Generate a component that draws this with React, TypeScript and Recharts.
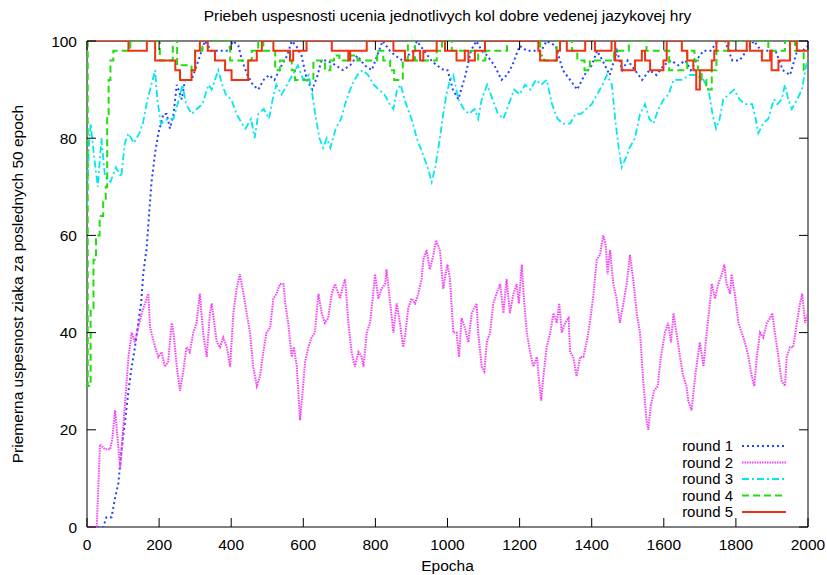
import React from "react";
import { LineChart, Line, XAxis, YAxis, ReferenceArea, Legend } from "recharts";

const FONT = "'Liberation Sans', Arial, Helvetica, sans-serif";
const FS = 15.5;
const PLOT_W = 721;
const PLOT_H = 486;
const TICK = 9;

const xTicks = [0, 200, 400, 600, 800, 1000, 1200, 1400, 1600, 1800, 2000];
const yTicks = [0, 20, 40, 60, 80, 100];

// round 1 (blue, dotted)
const r1Epochs = [0, 45, 54, 68, 78, 87, 96, 106, 115, 124, 133, 142, 150, 156, 161, 165, 170, 179, 189, 198, 212, 221, 230, 240, 249, 263, 272, 290, 300, 309, 318, 327, 345, 369, 392, 405, 420, 430, 445, 460, 475, 490, 505, 520, 540, 555, 568, 580, 595, 610, 625, 640, 650, 665, 690, 710, 730, 750, 770, 790, 805, 820, 840, 855, 875, 890, 905, 915, 935, 955, 970, 990, 1000, 1015, 1030, 1050, 1065, 1080, 1095, 1110, 1130, 1150, 1165, 1180, 1200, 1220, 1240, 1260, 1275, 1300, 1320, 1340, 1360, 1380, 1400, 1415, 1430, 1450, 1470, 1485, 1500, 1520, 1540, 1560, 1580, 1600, 1620, 1640, 1660, 1675, 1690, 1710, 1730, 1750, 1770, 1790, 1810, 1830, 1850, 1870, 1890, 1910, 1930, 1950, 1970, 1985, 2000];
const r1Values = [0, 0, 2, 2, 6, 9, 16, 22, 28, 33, 37, 42, 46, 52, 55, 57, 62, 71, 77, 81, 85, 85, 82, 85, 91, 88, 92, 92, 94, 96, 98, 100, 98, 98, 98, 100, 99, 96, 93, 91, 90, 92, 93, 92, 95, 97, 100, 99, 97, 92, 90, 93, 96, 96, 95, 94, 95, 97, 95, 94, 97, 100, 98, 97, 96, 97, 98, 100, 98, 96, 95, 94, 94, 90, 88, 93, 98, 100, 98, 97, 95, 92, 93, 95, 99, 98, 98, 98, 100, 99, 94, 92, 90, 93, 95, 98, 96, 93, 98, 94, 96, 94, 92, 94, 93, 95, 96, 95, 96, 94, 96, 98, 98, 100, 100, 96, 96, 98, 100, 98, 98, 98, 94, 93, 98, 98, 99];

// round 2 (magenta, fine dots)
const r2Epochs = [0, 27, 36, 50, 64, 70, 78, 85, 92, 101, 110, 115, 124, 133, 142, 152, 161, 170, 175, 189, 198, 207, 216, 225, 235, 240, 249, 258, 267, 276, 285, 295, 304, 313, 322, 332, 341, 346, 360, 369, 378, 388, 397, 406, 415, 424, 434, 443, 452, 461, 471, 480, 489, 498, 508, 517, 526, 535, 545, 550, 558, 568, 574, 582, 591, 596, 605, 614, 623, 632, 642, 651, 660, 669, 679, 688, 702, 711, 716, 725, 734, 743, 753, 762, 767, 776, 785, 794, 799, 808, 817, 827, 831, 841, 850, 859, 868, 877, 882, 891, 900, 910, 919, 928, 933, 942, 951, 961, 968, 979, 988, 997, 1000, 1007, 1016, 1025, 1032, 1039, 1048, 1058, 1067, 1081, 1085, 1095, 1102, 1109, 1118, 1127, 1136, 1146, 1155, 1164, 1173, 1183, 1192, 1198, 1206, 1213, 1220, 1229, 1238, 1248, 1254, 1260, 1266, 1275, 1285, 1294, 1303, 1310, 1317, 1326, 1336, 1340, 1349, 1358, 1368, 1377, 1386, 1395, 1405, 1414, 1423, 1432, 1439, 1444, 1451, 1460, 1469, 1478, 1488, 1497, 1506, 1515, 1525, 1534, 1543, 1552, 1557, 1564, 1573, 1583, 1592, 1603, 1612, 1620, 1627, 1635, 1645, 1654, 1663, 1668, 1677, 1687, 1696, 1700, 1710, 1719, 1728, 1733, 1742, 1751, 1761, 1768, 1774, 1784, 1788, 1797, 1807, 1816, 1825, 1835, 1844, 1851, 1858, 1867, 1876, 1886, 1895, 1901, 1908, 1918, 1927, 1936, 1941, 1950, 1959, 1969, 1978, 1984, 1992, 2000];
const r2Values = [0, 0, 17, 16, 16, 18, 24, 18, 12, 21, 30, 35, 40, 38, 41, 44, 46, 48, 41, 37, 35, 36, 33, 34, 42, 40, 33, 28, 32, 37, 36, 40, 42, 48, 40, 35, 44, 46, 38, 37, 39, 37, 33, 44, 49, 52, 48, 44, 40, 33, 29, 31, 36, 40, 41, 47, 48, 50, 50, 46, 42, 35, 37, 33, 22, 26, 34, 37, 39, 40, 48, 44, 42, 43, 48, 50, 47, 50, 51, 42, 36, 33, 36, 35, 33, 40, 42, 48, 52, 47, 49, 50, 53, 46, 40, 46, 42, 37, 39, 45, 47, 46, 48, 51, 55, 57, 53, 56, 59, 57, 49, 53, 54, 51, 40, 40, 35, 43, 41, 38, 44, 46, 40, 33, 32, 38, 40, 46, 48, 50, 44, 51, 44, 48, 50, 46, 54, 46, 40, 36, 33, 35, 30, 26, 31, 37, 40, 44, 42, 46, 40, 42, 43, 36, 35, 31, 35, 35, 38, 42, 48, 55, 56, 60, 58, 52, 57, 50, 47, 42, 46, 50, 56, 51, 44, 40, 30, 22, 20, 25, 28, 29, 35, 40, 42, 38, 44, 40, 35, 31, 29, 26, 24, 31, 36, 38, 33, 40, 46, 50, 47, 50, 52, 54, 50, 48, 52, 48, 42, 40, 38, 35, 31, 29, 35, 40, 39, 42, 43, 44, 40, 35, 30, 29, 35, 37, 37, 42, 46, 48, 42, 44];

// round 3 (cyan, dash-dot)
const r3Epochs = [0, 5, 10, 20, 30, 40, 50, 65, 80, 95, 105, 115, 130, 145, 155, 165, 175, 189, 195, 205, 225, 240, 255, 265, 275, 290, 305, 320, 337, 346, 355, 364, 375, 385, 400, 415, 430, 440, 455, 465, 475, 490, 505, 515, 525, 540, 555, 570, 585, 600, 615, 625, 635, 645, 655, 665, 675, 690, 705, 716, 725, 735, 750, 765, 780, 795, 810, 825, 840, 850, 860, 870, 885, 900, 915, 930, 945, 956, 966, 979, 988, 997, 1007, 1016, 1030, 1045, 1060, 1075, 1085, 1095, 1110, 1125, 1140, 1155, 1170, 1185, 1200, 1215, 1230, 1245, 1260, 1275, 1290, 1305, 1320, 1340, 1355, 1370, 1385, 1400, 1415, 1430, 1442, 1456, 1465, 1475, 1483, 1495, 1505, 1520, 1534, 1548, 1560, 1571, 1585, 1600, 1613, 1627, 1650, 1672, 1690, 1710, 1724, 1735, 1745, 1755, 1765, 1780, 1795, 1810, 1825, 1845, 1855, 1862, 1875, 1890, 1905, 1915, 1927, 1936, 1945, 1955, 1970, 1983, 1995, 2000];
const r3Values = [66, 78, 83, 76, 70, 80, 72, 71, 74, 72, 79, 81, 79, 81, 83, 87, 90, 94, 88, 83, 84, 84, 88, 91, 87, 85, 86, 87, 91, 90, 92, 94, 91, 89, 88, 85, 83, 82, 84, 80, 85, 86, 84, 88, 91, 89, 91, 93, 95, 92, 93, 89, 84, 80, 78, 80, 78, 82, 84, 87, 89, 91, 93, 94, 93, 91, 90, 89, 87, 86, 90, 91, 87, 84, 80, 77, 74, 71, 74, 80, 85, 89, 92, 93, 88, 86, 85, 86, 84, 88, 91, 88, 85, 84, 87, 90, 89, 91, 90, 92, 91, 92, 87, 84, 83, 83, 85, 85, 86, 87, 89, 91, 93, 91, 84, 78, 74, 76, 78, 80, 85, 87, 84, 83, 86, 88, 89, 92, 92, 93, 93, 92, 90, 85, 82, 84, 88, 89, 90, 88, 87, 87, 84, 81, 83, 84, 88, 87, 88, 91, 88, 86, 88, 90, 95, 96];

// round 4 (green, dashed)
const r4Epochs = [0, 2, 5, 10, 18, 25, 35, 45, 52, 56, 60, 65, 73, 120, 202, 238, 250, 290, 300, 320, 397, 457, 475, 489, 522, 535, 568, 577, 628, 660, 675, 685, 700, 730, 750, 805, 822, 841, 852, 876, 890, 910, 970, 985, 1012, 1085, 1105, 1165, 1257, 1268, 1303, 1345, 1360, 1380, 1395, 1462, 1503, 1552, 1615, 1665, 1685, 1695, 1705, 1718, 1733, 1746, 1780, 1890, 1936, 1964, 1988, 2000];
const r4Values = [100, 29, 29, 45, 55, 60, 64, 67, 70, 85, 92, 96, 98, 100, 96, 100, 95, 94, 98, 100, 96, 98, 100, 98, 94, 96, 94, 92, 96, 94, 96, 97, 96, 97, 96, 98, 96, 94, 92, 96, 100, 96, 98, 100, 98, 96, 98, 100, 97, 96, 100, 98, 96, 94, 96, 98, 100, 98, 94, 98, 96, 94, 92, 90, 94, 98, 100, 98, 100, 98, 94, 94];

// round 5 (red, solid)
const r5Epochs = [0, 115, 166, 189, 245, 258, 290, 300, 313, 335, 355, 383, 401, 447, 471, 485, 517, 563, 572, 609, 679, 725, 730, 776, 850, 882, 905, 924, 933, 970, 993, 1025, 1048, 1058, 1076, 1104, 1252, 1257, 1303, 1312, 1331, 1382, 1409, 1455, 1465, 1483, 1520, 1539, 1548, 1562, 1599, 1608, 1650, 1665, 1682, 1690, 1700, 1733, 1740, 1746, 1779, 1830, 1839, 1872, 1895, 1899, 1918, 1950, 1969, 2000];
const r5Values = [100, 98, 100, 96, 94, 92, 94, 98, 100, 98, 96, 94, 92, 96, 98, 100, 98, 96, 98, 100, 98, 96, 98, 100, 98, 96, 98, 96, 98, 100, 98, 96, 98, 96, 98, 100, 98, 96, 98, 100, 98, 100, 98, 100, 96, 94, 96, 98, 96, 94, 96, 100, 98, 96, 94, 90, 94, 96, 98, 100, 98, 100, 98, 96, 98, 94, 96, 100, 98, 98];

const toPoints = (epochs: number[], values: number[]) =>
  epochs.map((e, i) => ({ epoch: e, value: values[i] }));

const series = [
  { name: "round 1", data: toPoints(r1Epochs, r1Values), color: "#2244ff", dash: "2 3", width: 2, type: "linear" },
  { name: "round 2", data: toPoints(r2Epochs, r2Values), color: "#f444f4", dash: "1.5 1", width: 2, type: "linear" },
  { name: "round 3", data: toPoints(r3Epochs, r3Values), color: "#00e8ee", dash: "7 3 2 3", width: 1.8, type: "linear" },
  { name: "round 4", data: toPoints(r4Epochs, r4Values), color: "#22dd11", dash: "7 4", width: 2, type: "stepAfter" },
  { name: "round 5", data: toPoints(r5Epochs, r5Values), color: "#ee3311", dash: undefined, width: 2, type: "stepAfter" },
];

const textStyle = { fontFamily: FONT, fontSize: FS, fill: "#000" };

function XTick(props: any) {
  const { x, y, payload } = props;
  return (
    <g>
      <line x1={x} y1={y} x2={x} y2={y - TICK} stroke="#000" />
      <line x1={x} y1={y - PLOT_H} x2={x} y2={y - PLOT_H + TICK} stroke="#000" />
      <text x={x} y={y + 23} textAnchor="middle" style={textStyle}>{payload.value}</text>
    </g>
  );
}

function YTick(props: any) {
  const { x, y, payload } = props;
  return (
    <g>
      <line x1={x} y1={y} x2={x + TICK} y2={y} stroke="#000" />
      <line x1={x + PLOT_W} y1={y} x2={x + PLOT_W - TICK} y2={y} stroke="#000" />
      <text x={x - 10} y={y + 5.5} textAnchor="end" style={textStyle}>{payload.value}</text>
    </g>
  );
}

function LegendBox(props: any) {
  const items = props.payload || [];
  return (
    <svg width={140} height={90}>
      {items.map((it: any, i: number) => {
        const s = series.find((d) => d.name === it.value) || series[i];
        const cy = 9 + i * 16.5;
        return (
          <g key={s.name}>
            <text x={62} y={cy + 5} textAnchor="end" style={{ ...textStyle, fontSize: 15 }}>{s.name}</text>
            <line x1={71} x2={115} y1={cy} y2={cy} stroke={s.color} strokeWidth={s.width} strokeDasharray={s.dash} />
          </g>
        );
      })}
    </svg>
  );
}

export default function App() {
  return (
    <div style={{ position: "absolute", left: 0, top: 0, width: 827, height: 575, background: "#fff" }}>
      <div style={{ position: "absolute", left: 87, width: PLOT_W, top: 7, textAlign: "center", fontFamily: FONT, fontSize: FS, color: "#000", zIndex: 2 }}>
        Priebeh uspesnosti ucenia jednotlivych kol dobre vedenej jazykovej hry
      </div>
      <LineChart width={827} height={575} margin={{ top: 41, right: 19, bottom: 0, left: 0 }}>
        <XAxis
          dataKey="epoch"
          type="number"
          domain={[0, 2000]}
          ticks={xTicks}
          height={48}
          tickSize={0}
          tickMargin={0}
          axisLine={false}
          tickLine={false}
          tick={<XTick />}
          interval={0}
          allowDataOverflow
          label={{ value: "Epocha", position: "insideBottom", offset: 4, style: { fontFamily: FONT, fontSize: FS, fill: "#000" } }}
        />
        <YAxis
          type="number"
          domain={[0, 100]}
          ticks={yTicks}
          width={87}
          tickSize={0}
          tickMargin={0}
          axisLine={false}
          tickLine={false}
          tick={<YTick />}
          interval={0}
          allowDataOverflow
          label={{ value: "Priemerna uspesnost ziaka za poslednych 50 epoch", angle: -90, position: "insideLeft", offset: 17, style: { textAnchor: "middle", fontFamily: FONT, fontSize: FS, fill: "#000" } }}
        />
        <ReferenceArea x1={0} x2={2000} y1={0} y2={100} fill="none" fillOpacity={0} stroke="#000" strokeWidth={1} />
        {series.map((s) => (
          <Line
            key={s.name}
            data={s.data}
            dataKey="value"
            name={s.name}
            type={s.type as any}
            stroke={s.color}
            strokeWidth={s.width}
            strokeDasharray={s.dash}
            dot={false}
            activeDot={false}
            isAnimationActive={false}
          />
        ))}
        <Legend
          layout="horizontal"
          align="center"
          verticalAlign="middle"
          content={<LegendBox />}
          wrapperStyle={{ position: "absolute", left: 671, top: 437, width: 140, height: 90 }}
        />
      </LineChart>
    </div>
  );
}
